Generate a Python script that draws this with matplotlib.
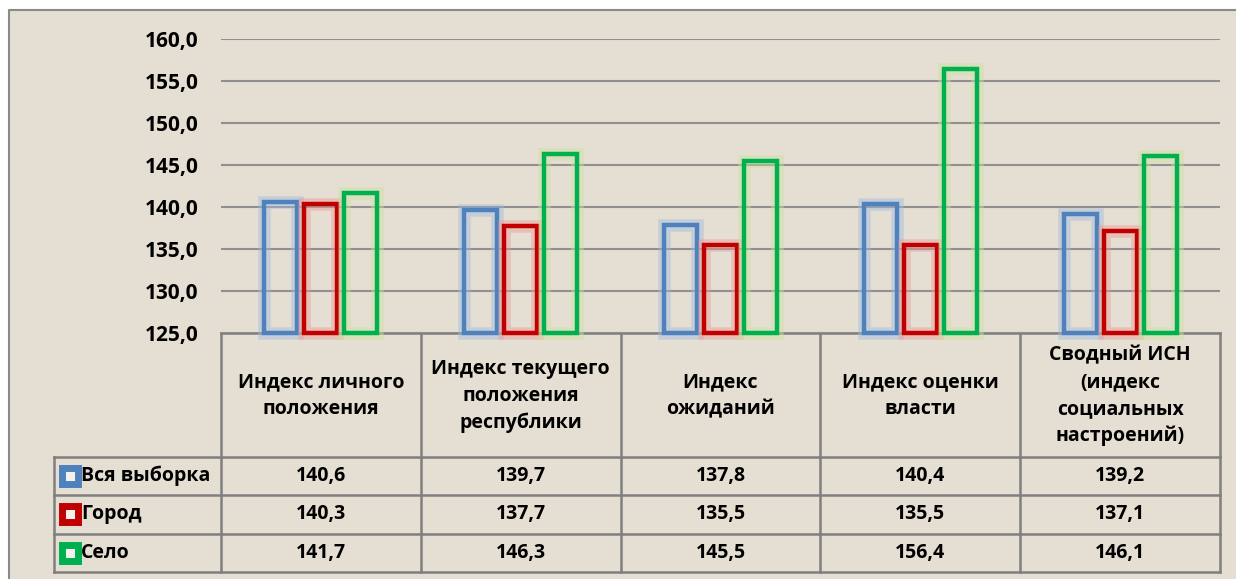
import numpy as np
import matplotlib

matplotlib.use('Agg')
from matplotlib import pyplot as plt

plt.rcParams['font.family'] = ['Open Sans', 'DejaVu Sans']
plt.rcParams['font.weight'] = 'bold'

categories = ['Индекс личного\nположения',
              'Индекс текущего\nположения\nреспублики',
              'Индекс\nожиданий',
              'Индекс оценки\nвласти',
              'Сводный ИСН\n(индекс\nсоциальных\nнастроений)']
series_names = ['Вся выборка', 'Город', 'Село']
vse = [140.6, 139.7, 137.8, 140.4, 139.2]
gorod = [140.3, 137.7, 135.5, 135.5, 137.1]
selo = [141.7, 146.3, 145.5, 156.4, 146.1]
colors = ['#4f81bd', '#c00000', '#00b050']
glows = ['#9dbbe0', '#ec9a94', '#c6e39a']

W, H = 1236, 579
bg = '#e5ded2'
grid_c = '#8f8f8f'

fig = plt.figure(figsize=(W / 100, H / 100), dpi=100)
fig.patch.set_facecolor('white')

# background panel + table, in pixel coords
axp = fig.add_axes([0, 0, 1, 1])
axp.set_xlim(0, W)
axp.set_ylim(H, 0)
axp.axis('off')
axp.add_patch(plt.Rectangle((9, 10), W - 9, H - 10, facecolor=bg, edgecolor='none'))
axp.plot([9, 9, W], [H, 10, 10], color='#8a8a8a', lw=1.5)

# chart area
x0, x1 = 221, 1220
y_top, y_bot = 39, 333
ax = fig.add_axes([x0 / W, 1 - y_bot / H, (x1 - x0) / W, (y_bot - y_top) / H])
ax.set_facecolor('none')
ax.set_xlim(-0.5, len(categories) - 0.5)
ax.set_ylim(125, 160)
ax.set_yticks(np.arange(125, 161, 5))
ax.set_yticklabels([f'{v:.1f}'.replace('.', ',') for v in np.arange(125, 161, 5)],
                   fontsize=15, fontweight='bold')
ax.tick_params(axis='y', length=0, pad=16)
ax.set_xticks([])
for s in ax.spines.values():
    s.set_visible(False)
ax.grid(axis='y', color=grid_c, lw=1.5)
ax.set_axisbelow(True)

x = np.arange(len(categories))
bw = 0.165
for k, vals in enumerate([vse, gorod, selo]):
    xs = x + (k - 1) * 0.2
    ax.bar(xs, np.array(vals) - 125, bw, bottom=125, fill=False,
           edgecolor=glows[k], linewidth=9, alpha=0.45, clip_on=False)
    ax.bar(xs, np.array(vals) - 125, bw, bottom=125, fill=False,
           edgecolor=colors[k], linewidth=3.2, clip_on=False)

# data table
colw = (x1 - x0) / len(categories)
tl = 54
hdr_bot = 457
row_h = 38.3
rows_y = [hdr_bot + i * row_h for i in range(4)]
lc = '#7f7f7f'
axp.plot([x0, x1], [y_bot, y_bot], color=lc, lw=1.8)
for i in range(len(categories) + 1):
    xx = x0 + i * colw
    axp.plot([xx, xx], [y_bot, rows_y[-1]], color=lc, lw=1.8)
for yy in rows_y:
    axp.plot([tl, x1], [yy, yy], color=lc, lw=1.8)
axp.plot([tl, tl], [hdr_bot, rows_y[-1]], color=lc, lw=1.8)

for i, cat in enumerate(categories):
    axp.text(x0 + (i + 0.5) * colw, (y_bot + hdr_bot) / 2 + 1, cat, ha='center', va='center',
             fontsize=14, fontweight='bold', linespacing=1.45)

for r, (name, vals) in enumerate(zip(series_names, [vse, gorod, selo])):
    yc = rows_y[r] + row_h / 2
    axp.plot(69.5, yc, marker='s', markersize=11.5, markerfacecolor='#f4f1ec',
             markeredgecolor=colors[r], markeredgewidth=5)
    axp.text(81, yc, name, ha='left', va='center', fontsize=14, fontweight='bold')
    for i, v in enumerate(vals):
        axp.text(x0 + (i + 0.5) * colw, yc, f'{v:.1f}'.replace('.', ','),
                 ha='center', va='center', fontsize=14, fontweight='bold')

fig.savefig('out.png', dpi=100, facecolor=fig.get_facecolor())
